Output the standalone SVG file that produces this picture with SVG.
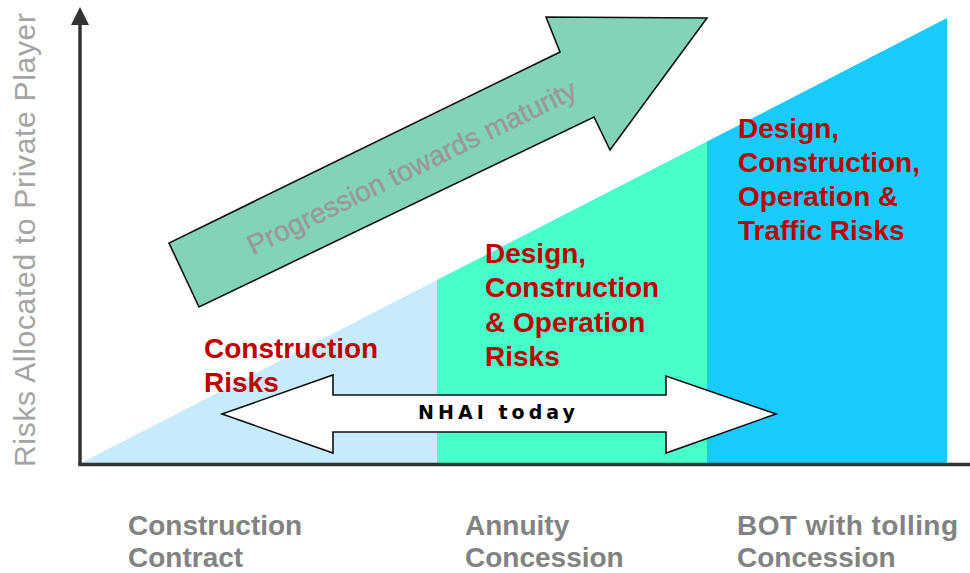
<svg xmlns="http://www.w3.org/2000/svg" width="970" height="573" viewBox="0 0 970 573">
  <defs>
    <style>
      .risk { font-family: "Liberation Sans", Arial, sans-serif; font-weight: bold; font-size: 28px; fill: #C00000; }
      .cat { font-family: "Liberation Sans", Arial, sans-serif; font-weight: bold; font-size: 28px; fill: #828282; }
      .axislabel { font-family: "Liberation Sans", Arial, sans-serif; font-size: 30px; fill: #A4A4A4; }
      .prog { font-family: "Liberation Sans", Arial, sans-serif; font-size: 28px; fill: #999999; stroke: #999999; stroke-width: 0.4; }
      .nhai { font-family: "DejaVu Sans", "Liberation Sans", sans-serif; font-weight: bold; font-size: 19px; fill: #000; }
      .axis { stroke: #333; stroke-width: 3.5; fill: none; }
      .outline { stroke: #111; stroke-width: 1.6; stroke-linejoin: miter; }
    </style>
  </defs>
  <rect width="970" height="573" fill="#FFFFFF"/>

  <g id="region-construction">
    <polygon points="81,463 437,280 437,463" fill="#C6ECFC"/>
    <text class="risk" x="204" y="358">Construction</text>
    <text class="risk" x="204" y="392">Risks</text>
    <text class="cat" x="128" y="535">Construction</text>
    <text class="cat" x="128" y="567">Contract</text>
  </g>

  <g id="region-annuity">
    <polygon points="437,280 707,141.5 707,463 437,463" fill="#48FFCC"/>
    <text class="risk" x="485" y="263">Design,</text>
    <text class="risk" x="485" y="297">Construction</text>
    <text class="risk" x="485" y="332">&amp; Operation</text>
    <text class="risk" x="485" y="366">Risks</text>
    <text class="cat" x="465" y="535">Annuity</text>
    <text class="cat" x="465" y="567">Concession</text>
  </g>

  <g id="region-bot">
    <polygon points="707,141.5 947,18 947,463 707,463" fill="#18CBFE"/>
    <text class="risk" x="738" y="138">Design,</text>
    <text class="risk" x="738" y="172">Construction,</text>
    <text class="risk" x="738" y="206">Operation &amp;</text>
    <text class="risk" x="738" y="240">Traffic Risks</text>
    <text class="cat" x="737" y="535" textLength="221" lengthAdjust="spacing">BOT with tolling</text>
    <text class="cat" x="737" y="567">Concession</text>
  </g>

  <g id="progression-arrow">
    <polygon class="outline" points="199,307 169,243 560,52 546,17 707,18 610,150 594,117" fill="#82D3B8"/>
    <text class="prog" text-anchor="middle" transform="translate(412,168) rotate(-26)" y="9">Progression towards maturity</text>
  </g>

  <g id="nhai-today">
    <polygon class="outline" points="222,414 333,375 333,395 666,395 666,376 776,414 666,453 666,432 333,432 333,453" fill="#FFFFFF"/>
    <text class="nhai" x="418" y="419" textLength="157" lengthAdjust="spacing">NHAI today</text>
  </g>

  <g id="connectors">
    <line class="axis" x1="80" y1="464.5" x2="80" y2="22"/>
    <polygon points="80,7 71,25 89,25" fill="#333"/>
    <line class="axis" x1="78.25" y1="464.5" x2="970" y2="464.5"/>
  </g>

  <g id="y-axis-label">
    <text class="axislabel" transform="translate(35,467) rotate(-90)" textLength="454" lengthAdjust="spacing">Risks Allocated to Private Player</text>
  </g>
</svg>
